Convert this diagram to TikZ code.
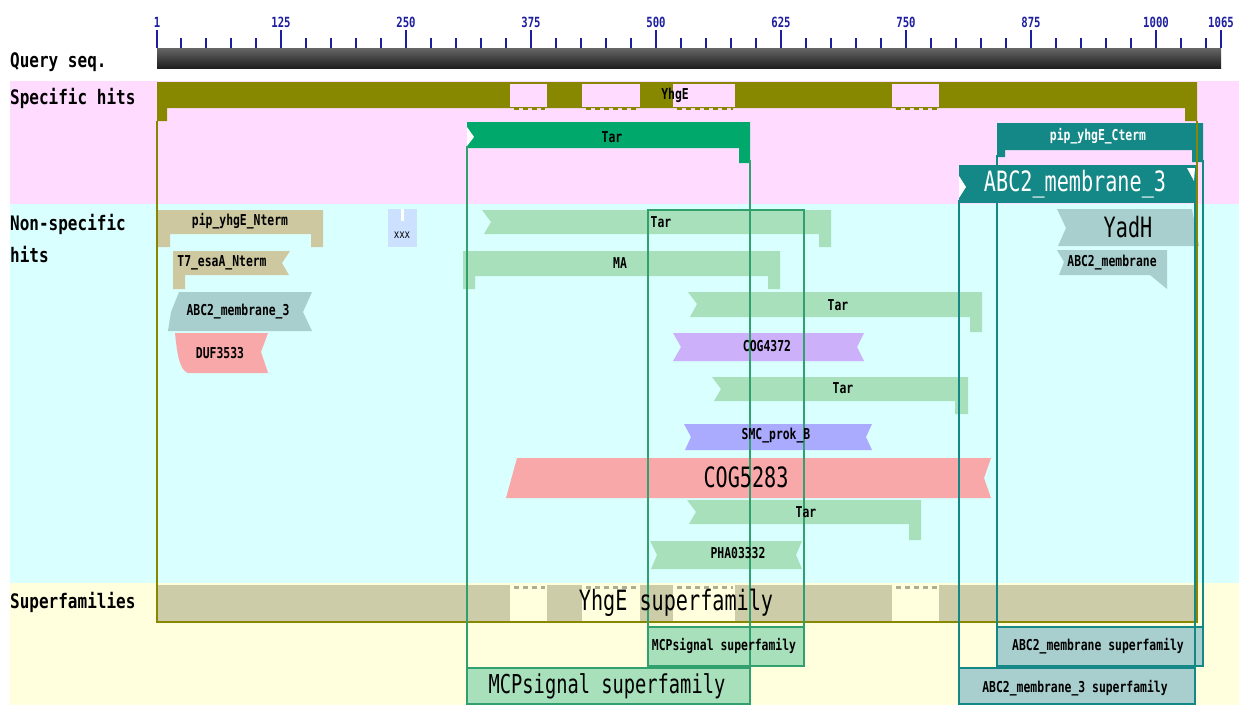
\documentclass[tikz,border=0pt]{standalone}
\usepackage{fontspec}
\newfontfamily\monoS[FakeStretch=0.76]{DejaVu Sans Mono}
\newfontfamily\monoL[FakeStretch=0.72]{DejaVu Sans Mono}
\newfontfamily\monoR[FakeStretch=0.8]{DejaVu Sans Mono}
\definecolor{cPink}{RGB}{255,220,255}
\definecolor{cCyan}{RGB}{217,255,255}
\definecolor{cCream}{RGB}{255,255,221}
\definecolor{cOlive}{RGB}{136,136,0}
\definecolor{cKhaki}{RGB}{204,204,168}
\definecolor{cKhakiN}{RGB}{205,200,160}
\definecolor{cGreen}{RGB}{0,168,107}
\definecolor{cLGreen}{RGB}{168,224,188}
\definecolor{cFrameG}{RGB}{50,160,110}
\definecolor{cTeal}{RGB}{20,135,135}
\definecolor{cLTeal}{RGB}{168,206,206}
\definecolor{cSalmon}{RGB}{248,168,168}
\definecolor{cLav}{RGB}{204,176,250}
\definecolor{cBlueV}{RGB}{170,170,255}
\definecolor{cXxx}{RGB}{204,224,255}
\definecolor{cTick}{RGB}{30,30,160}
\begin{document}
\begin{tikzpicture}[x=1pt,y=-1pt,
  lab/.style={font=\monoS\bfseries\fontsize{15}{15}\selectfont,inner sep=0pt},
  wlab/.style={lab,text=white},
  biglab/.style={font=\monoL\fontsize{28}{28}\selectfont,inner sep=0pt},
  rowlab/.style={font=\monoR\bfseries\fontsize{20}{20}\selectfont,anchor=base west,inner sep=0pt},
  ticklab/.style={font=\monoS\bfseries\fontsize{14}{14}\selectfont,text=cTick,inner sep=0pt},
  rulertick/.style={draw=cTick,line width=2pt},
  gframe/.style={draw=cFrameG,line width=1.5pt},
  tframe/.style={draw=cTeal,line width=1.5pt},
  oframe/.style={draw=cOlive,line width=2.2pt},
  dotline/.style={line width=3pt,dash pattern=on 5pt off 4pt},
]
\useasboundingbox (0,0) rectangle (1239,705);
\fill[white] (0,0) rectangle (1239,705);
% backgrounds
\fill[cPink] (10,81) rectangle (1239,204);
\fill[cCyan] (10,204) rectangle (1239,583);
\fill[cCream] (10,583) rectangle (1239,705);
% ruler
\shade[top color=black!60, middle color=black!72, bottom color=black!88] (157,48) rectangle (1221,68);
\foreach \p in {25,50,...,1050} {\draw[rulertick] ({156+\p},38) -- ({156+\p},48);}
\foreach \p in {1,125,250,375,500,625,750,875,1000,1065} {
  \draw[rulertick] ({156+\p},30) -- ({156+\p},48);
  \node[ticklab] (t\p) at ({156+\p},22) {\p};
}
% row labels
\node[rowlab] (lq) at (10,67) {Query seq.};
\node[rowlab] (ls) at (10,104) {Specific hits};
\node[rowlab] (ln1) at (10,230) {Non-specific};
\node[rowlab] (ln2) at (10,262) {hits};
\node[rowlab] (lsf) at (10,608) {Superfamilies};

% ---- specific hits
\fill[cOlive] (157,82) -- (1197,82) -- (1197,121) -- (1185,121) -- (1185,108) -- (167,108) -- (167,121) -- (157,121) -- cycle;
\foreach \a/\b in {510/547,582/640,673/735,892/939} {
  \fill[cPink] (\a,84) rectangle (\b,107);
  \draw[cOlive,dotline] ({\a+4},108) -- ({\b-2},108);
}
\fill[cGreen] (467,122) -- (750,122) -- (750,163) -- (739,163) -- (739,148) -- (467,148) -- cycle;
\fill[white] (467,127) -- (474,137) -- (467,146) -- cycle;
\fill[cTeal] (997,123) -- (1203,123) -- (1203,162) -- (1192,162) -- (1192,150) -- (1005,150) -- (1005,157) -- (997,157) -- cycle;
\fill[cTeal] (959,165) rectangle (1196,203);
\fill[white] (959,176) -- (966,187) -- (959,198) -- cycle;
\fill[white] (1187,168) -- (1195,168) -- (1194,181) -- cycle;

% ---- non-specific hits
\fill[cKhakiN] (157,210) -- (323,210) -- (323,247) -- (311,247) -- (311,234) -- (170,234) -- (170,247) -- (157,247) -- cycle;
\fill[cXxx] (388,209) rectangle (417,247);
\fill[white] (401,209) rectangle (404,221);
\fill[cLGreen] (482,210) -- (831,210) -- (831,247) -- (819,247) -- (819,234) -- (484,234) -- (491,222) -- cycle;
\fill[cLTeal] (1057,209) -- (1192,209) -- (1199,246) -- (1058,246) -- (1066,228) -- cycle;
\fill[cKhakiN] (173,251) -- (290,251) -- (282,263) -- (289,275) -- (185,275) -- (185,289) -- (173,289) -- cycle;
\fill[cLGreen] (463,251) -- (780,251) -- (780,289) -- (768,289) -- (768,276) -- (475,276) -- (475,289) -- (463,289) -- cycle;
\fill[cLTeal] (1057,250) -- (1167,250) -- (1167,289) -- (1150,275) -- (1059,275) -- (1064,262) -- cycle;
\fill[cLTeal] (179,292) -- (312,292) -- (303,312) -- (312,331) -- (168,331) -- (171,312) -- cycle;
\fill[cLGreen] (688,292) -- (982,292) -- (982,332) -- (970,332) -- (970,317) -- (690,317) -- (697,304) -- cycle;
\fill[cSalmon] (175,333) -- (268,333) -- (261,352) -- (268,373) -- (188,373) .. controls (179,370) and (177,352) .. (175,333) -- cycle;
\fill[cLav] (673,333) -- (864,333) -- (857,347) -- (864,361) -- (673,361) -- (681,347) -- cycle;
\fill[cLGreen] (712,377) -- (968,377) -- (968,414) -- (955,414) -- (955,401) -- (714,401) -- (721,389) -- cycle;
\fill[cBlueV] (684,424) -- (872,424) -- (866,437) -- (872,450) -- (685,450) -- (691,437) -- cycle;
\fill[cSalmon] (517,458) -- (991,458) -- (984,478) -- (991,498) -- (506,498) -- cycle;
\fill[cLGreen] (687,500) -- (921,500) -- (921,540) -- (909,540) -- (909,524) -- (689,524) -- (696,512) -- cycle;
\fill[cLGreen] (650,541) -- (802,541) -- (796,555) -- (802,569) -- (651,569) -- (657,555) -- cycle;

% ---- superfamilies
\fill[cKhaki] (157,585) rectangle (1197,621);
\foreach \a/\b in {510/547,582/640,673/735,892/939} {
  \fill[cCream] (\a,585) rectangle (\b,621);
  \draw[cKhaki!85!black,dotline,line width=2.5pt] ({\a+4},587.5) -- ({\b-2},587.5);
}
\fill[cLGreen] (648,627) rectangle (804,666);
\fill[cLTeal] (997,627) rectangle (1203,666);
\fill[cLGreen] (467,668) rectangle (750,705);
\fill[cLTeal] (959,668) rectangle (1195,705);

% ---- frames
\draw[oframe] (157,121) -- (157,622) -- (1197,622) -- (1197,121);
\draw[gframe] (467,146) -- (467,704) -- (750,704) -- (750,160);
\draw[gframe] (467,668) -- (750,668);
\draw[gframe] (648,627) -- (648,210) -- (804,210) -- (804,627);
\draw[gframe] (648,627) rectangle (804,666);
\draw[tframe] (959,200) -- (959,704) -- (1195,704) -- (1195,200);
\draw[tframe] (959,668) -- (1195,668);
\draw[tframe] (997,155) -- (997,666) -- (1203,666) -- (1203,160);
\draw[tframe] (997,627) -- (1203,627);

% ---- labels
\node[lab] (nYhgE) at (675,95) {YhgE};
\node[lab] (nTarS) at (612,137) {Tar};
\node[wlab] (nPipC) at (1098,136) {pip\_yhgE\_Cterm};
\node[biglab,text=white] (nABC3S) at (1075,184) {ABC2\_membrane\_3};
\node[lab] (nPipN) at (240,221) {pip\_yhgE\_Nterm};
\node[lab,font=\monoS\fontsize{12}{12}\selectfont] (nXxx) at (402,235) {xxx};
\node[lab] (nTar1) at (661,222) {Tar};
\node[biglab] (nYadH) at (1128,227) {YadH};
\node[lab] (nT7) at (222,263) {T7\_esaA\_Nterm};
\node[lab] (nMA) at (620,263) {MA};
\node[lab] (nABC2) at (1112,263) {ABC2\_membrane};
\node[lab] (nABC3N) at (238,312) {ABC2\_membrane\_3};
\node[lab] (nTar3) at (838,305) {Tar};
\node[lab] (nDUF) at (220,353) {DUF3533};
\node[lab] (nCOG4) at (767,346) {COG4372};
\node[lab] (nTar5) at (843,388) {Tar};
\node[lab] (nSMC) at (776,436) {SMC\_prok\_B};
\node[biglab] (nCOG5) at (746,477) {COG5283};
\node[lab] (nTar8) at (806,512) {Tar};
\node[lab] (nPHA) at (738,553) {PHA03332};
\node[biglab] (nYsf) at (676,603) {YhgE superfamily};
\node[lab] (nMCPs) at (724,646) {MCPsignal superfamily};
\node[lab] (nABCsf) at (1098,646) {ABC2\_membrane superfamily};
\node[biglab,font=\monoL\fontsize{26}{26}\selectfont] (nMCPb) at (607,686) {MCPsignal superfamily};
\node[lab] (nABC3sf) at (1075,688) {ABC2\_membrane\_3 superfamily};
\end{tikzpicture}
\end{document}
